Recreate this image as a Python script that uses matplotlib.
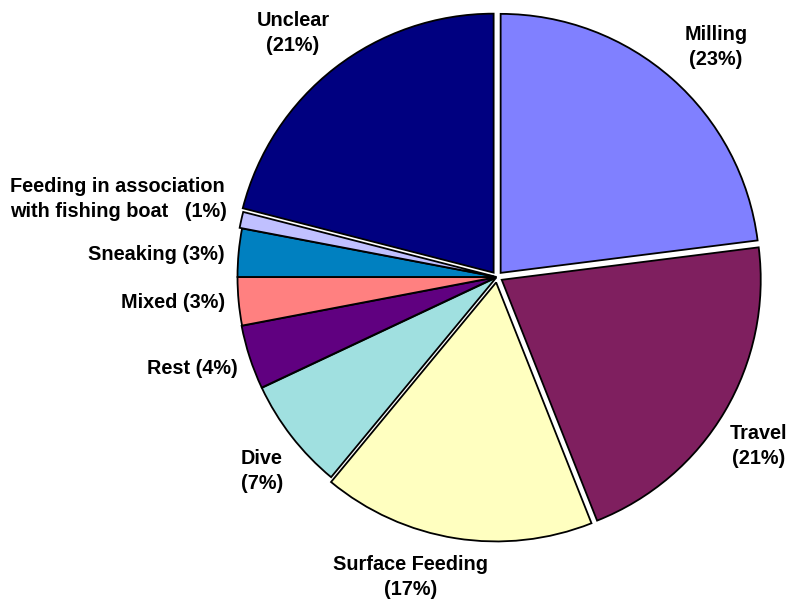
import matplotlib.pyplot as plt

# Behaviour budget, clockwise from 12 o'clock
behaviours = ["Milling", "Travel", "Surface Feeding", "Dive", "Rest",
              "Mixed", "Sneaking", "Feeding in association with fishing boat",
              "Unclear"]
shares = [23, 21, 17, 7, 4, 3, 3, 1, 21]
colours = ["#8080FF", "#7F1F5F", "#FFFFC0", "#A0E0E0", "#600080",
           "#FF8080", "#0080C0", "#C0C0FF", "#000080"]
# wedge offsets in pixels (pie is drawn in pixel-sized data units)
offsets = [5.5, 5.5, 5.5, 1, 1, 0.5, 0.5, 3, 5.5]

W, H = 789, 599
fig = plt.figure(figsize=(W / 100, H / 100), dpi=100)
ax = fig.add_axes([0, 0, 1, 1])

ax.pie(shares, colors=colours, explode=offsets, startangle=90,
       counterclock=False, radius=259, center=(497, H - 277),
       wedgeprops=dict(edgecolor="black", linewidth=1.3),
       frame=True)
ax.set_xlim(0, W)
ax.set_ylim(0, H)
ax.set_aspect("equal")
ax.axis("off")

font = dict(family="Liberation Sans", fontweight="bold", fontsize=14.3,
            color="black", linespacing=1.45)

def label(x, y, s, ha="center"):
    ax.text(x, H - y, s, ha=ha, va="center", **font)

label(293, 33, "Unclear\n(21%)")
label(716, 47, "Milling\n(23%)")
label(759, 446, "Travel\n(21%)")
label(411, 577, "Surface Feeding\n(17%)")
label(262, 471, "Dive\n(7%)")
label(238, 369, "Rest (4%)", ha="right")
label(225, 302, "Mixed (3%)", ha="right")
label(225, 255, "Sneaking (3%)", ha="right")
label(10, 199, "Feeding in association\nwith fishing boat   (1%)", ha="left")

fig.savefig("out.png", dpi=100)
